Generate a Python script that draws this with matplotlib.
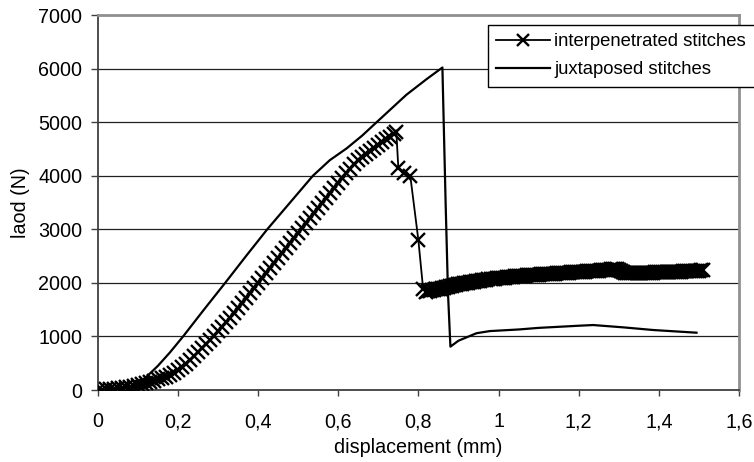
import matplotlib
matplotlib.use("Agg")
import matplotlib.pyplot as plt
from matplotlib.ticker import FuncFormatter

plt.rcParams['font.family'] = ['Liberation Sans', 'DejaVu Sans']

# interpenetrated stitches: loading ramp
rise_x = [0.00, 0.01, 0.02, 0.03, 0.04, 0.05, 0.06, 0.07, 0.08, 0.09,
          0.10, 0.11, 0.12, 0.13, 0.14, 0.15, 0.16, 0.17, 0.18, 0.19,
          0.20, 0.21, 0.22, 0.23, 0.24, 0.25, 0.26, 0.27, 0.28, 0.29,
          0.30, 0.31, 0.32, 0.33, 0.34, 0.35, 0.36, 0.37, 0.38, 0.39,
          0.40, 0.41, 0.42, 0.43, 0.44, 0.45, 0.46, 0.47, 0.48, 0.49,
          0.50, 0.51, 0.52, 0.53, 0.54, 0.55, 0.56, 0.57, 0.58, 0.59,
          0.60, 0.61, 0.62, 0.63, 0.64, 0.65, 0.66, 0.67, 0.68, 0.69,
          0.70, 0.71, 0.72, 0.73, 0.74, 0.745]
rise_y = [0, 5, 10, 15, 22, 30, 40, 50, 62, 75,
          90, 108, 128, 150, 175, 200, 225, 250, 280, 320,
          370, 430, 495, 560, 630, 705, 780, 855, 930, 1010,
          1095, 1180, 1265, 1350, 1440, 1530, 1620, 1710, 1805, 1900,
          1995, 2090, 2185, 2280, 2375, 2470, 2565, 2660, 2750, 2845,
          2935, 3030, 3120, 3215, 3310, 3400, 3495, 3590, 3680, 3775,
          3870, 3960, 4045, 4130, 4210, 4290, 4350, 4410, 4465, 4520,
          4575, 4630, 4680, 4730, 4780, 4820]

# interpenetrated stitches: failure
drop_x = [0.750, 0.765, 0.780, 0.800, 0.812]
drop_y = [4150, 4060, 3990, 2800, 1880]

# interpenetrated stitches: residual plateau
plat_x = [0.820, 0.825, 0.830, 0.835, 0.840, 0.845, 0.850, 0.855, 0.860, 0.865,
          0.870, 0.875, 0.880, 0.885, 0.890, 0.895, 0.900, 0.905, 0.910, 0.915,
          0.920, 0.925, 0.930, 0.935, 0.940, 0.945, 0.950, 0.955, 0.960, 0.965,
          0.970, 0.975, 0.980, 0.985, 0.990, 0.995, 1.000, 1.005, 1.010, 1.015,
          1.020, 1.025, 1.030, 1.035, 1.040, 1.045, 1.050, 1.055, 1.060, 1.065,
          1.070, 1.075, 1.080, 1.085, 1.090, 1.095, 1.100, 1.105, 1.110, 1.115,
          1.120, 1.125, 1.130, 1.135, 1.140, 1.145, 1.150, 1.155, 1.160, 1.165,
          1.170, 1.175, 1.180, 1.185, 1.190, 1.195, 1.200, 1.205, 1.210, 1.215,
          1.220, 1.225, 1.230, 1.235, 1.240, 1.245, 1.250, 1.255, 1.260, 1.265,
          1.270, 1.275, 1.280, 1.285, 1.290, 1.295, 1.300, 1.305, 1.310, 1.315,
          1.320, 1.325, 1.330, 1.335, 1.340, 1.345, 1.350, 1.355, 1.360, 1.365,
          1.370, 1.375, 1.380, 1.385, 1.390, 1.395, 1.400, 1.405, 1.410, 1.415,
          1.420, 1.425, 1.430, 1.435, 1.440, 1.445, 1.450, 1.455, 1.460, 1.465,
          1.470, 1.475, 1.480, 1.485, 1.490, 1.495, 1.500, 1.505, 1.510]
plat_y = [1830, 1845, 1850, 1862, 1870, 1880, 1890, 1893, 1900, 1912,
          1920, 1932, 1940, 1948, 1955, 1962, 1970, 1978, 1985, 1992,
          2000, 2004, 2010, 2020, 2025, 2030, 2035, 2044, 2050, 2055,
          2060, 2066, 2070, 2076, 2080, 2086, 2090, 2092, 2095, 2100,
          2105, 2108, 2110, 2116, 2120, 2122, 2125, 2128, 2130, 2136,
          2140, 2142, 2145, 2148, 2150, 2153, 2155, 2158, 2160, 2162,
          2165, 2168, 2170, 2172, 2175, 2178, 2180, 2182, 2185, 2188,
          2190, 2192, 2195, 2198, 2200, 2202, 2205, 2208, 2210, 2212,
          2215, 2218, 2220, 2222, 2225, 2228, 2230, 2235, 2240, 2242,
          2245, 2248, 2250, 2252, 2255, 2250, 2240, 2215, 2195, 2192,
          2190, 2188, 2185, 2185, 2185, 2188, 2190, 2190, 2190, 2188,
          2185, 2188, 2190, 2192, 2195, 2195, 2195, 2198, 2200, 2200,
          2200, 2203, 2205, 2205, 2205, 2208, 2210, 2212, 2215, 2215,
          2215, 2218, 2220, 2222, 2225, 2228, 2230, 2235, 2240]

inter_x = rise_x + drop_x + plat_x
inter_y = rise_y + drop_y + plat_y

# juxtaposed stitches (plain line)
juxt_x = [0.0, 0.05, 0.10, 0.122, 0.15, 0.18, 0.213, 0.265, 0.318, 0.37,
          0.423, 0.48, 0.537, 0.579, 0.621, 0.66, 0.696, 0.77, 0.82, 0.86,
          0.868, 0.874, 0.88, 0.90, 0.945, 0.978, 1.05, 1.10, 1.20, 1.236,
          1.311, 1.386, 1.494]
juxt_y = [0, 20, 100, 250, 450, 700, 1000, 1500, 2000, 2500,
          3000, 3500, 4000, 4290, 4510, 4750, 5000, 5510, 5800, 6020,
          3500, 1800, 810, 920, 1060, 1100, 1130, 1160, 1200, 1213,
          1170, 1120, 1070]

x_ticks = [0, 0.2, 0.4, 0.6, 0.8, 1.0, 1.2, 1.4, 1.6]
y_ticks = [0, 1000, 2000, 3000, 4000, 5000, 6000, 7000]

fs = 14.2
fs_leg = 13.3

fig = plt.figure(figsize=(7.54, 4.62), dpi=100)
ax = fig.add_axes([0.1296, 0.1558, 0.8505, 0.8117])

ax.plot(inter_x, inter_y, color='black', lw=1.3, marker='x', ms=9.5,
        mew=1.7, label='interpenetrated stitches', zorder=3)
ax.plot(juxt_x, juxt_y, color='black', lw=1.6,
        label='juxtaposed stitches', zorder=3)

ax.set_xlim(0, 1.6)
ax.set_ylim(0, 7000)
ax.set_xticks(x_ticks)
ax.set_yticks(y_ticks)

def comma_fmt(v, pos):
    if v == 0:
        return '0'
    return ('%g' % v).replace('.', ',')

ax.xaxis.set_major_formatter(FuncFormatter(comma_fmt))
ax.tick_params(axis='y', direction='out', length=5, width=1, pad=6,
               labelsize=fs, colors='#404040', labelcolor='black')
ax.tick_params(axis='x', direction='out', length=4, width=1, pad=12,
               labelsize=fs, colors='#404040', labelcolor='black')

ax.yaxis.grid(True, color='#202020', lw=0.9)
ax.set_axisbelow(True)

for side in ['left', 'bottom']:
    ax.spines[side].set_color('#404040')
    ax.spines[side].set_linewidth(1.3)
for side in ['top', 'right']:
    ax.spines[side].set_color('#909090')
    ax.spines[side].set_linewidth(2.0)

ax.set_xlabel('displacement (mm)', fontsize=fs, labelpad=5)
ax.set_ylabel('laod (N)', fontsize=fs, labelpad=6)

leg = ax.legend(loc='upper left', bbox_to_anchor=(488 / 754, 1 - 25 / 462),
                bbox_transform=fig.transFigure, fontsize=fs_leg, frameon=True,
                fancybox=False, borderaxespad=0, borderpad=0.45,
                labelspacing=0.6, handlelength=2.9, handletextpad=0.25,
                markerscale=0.9)
leg.get_frame().set_edgecolor('black')
leg.get_frame().set_linewidth(1.0)
leg.get_frame().set_alpha(1)

fig.savefig('out.png', dpi=100)
